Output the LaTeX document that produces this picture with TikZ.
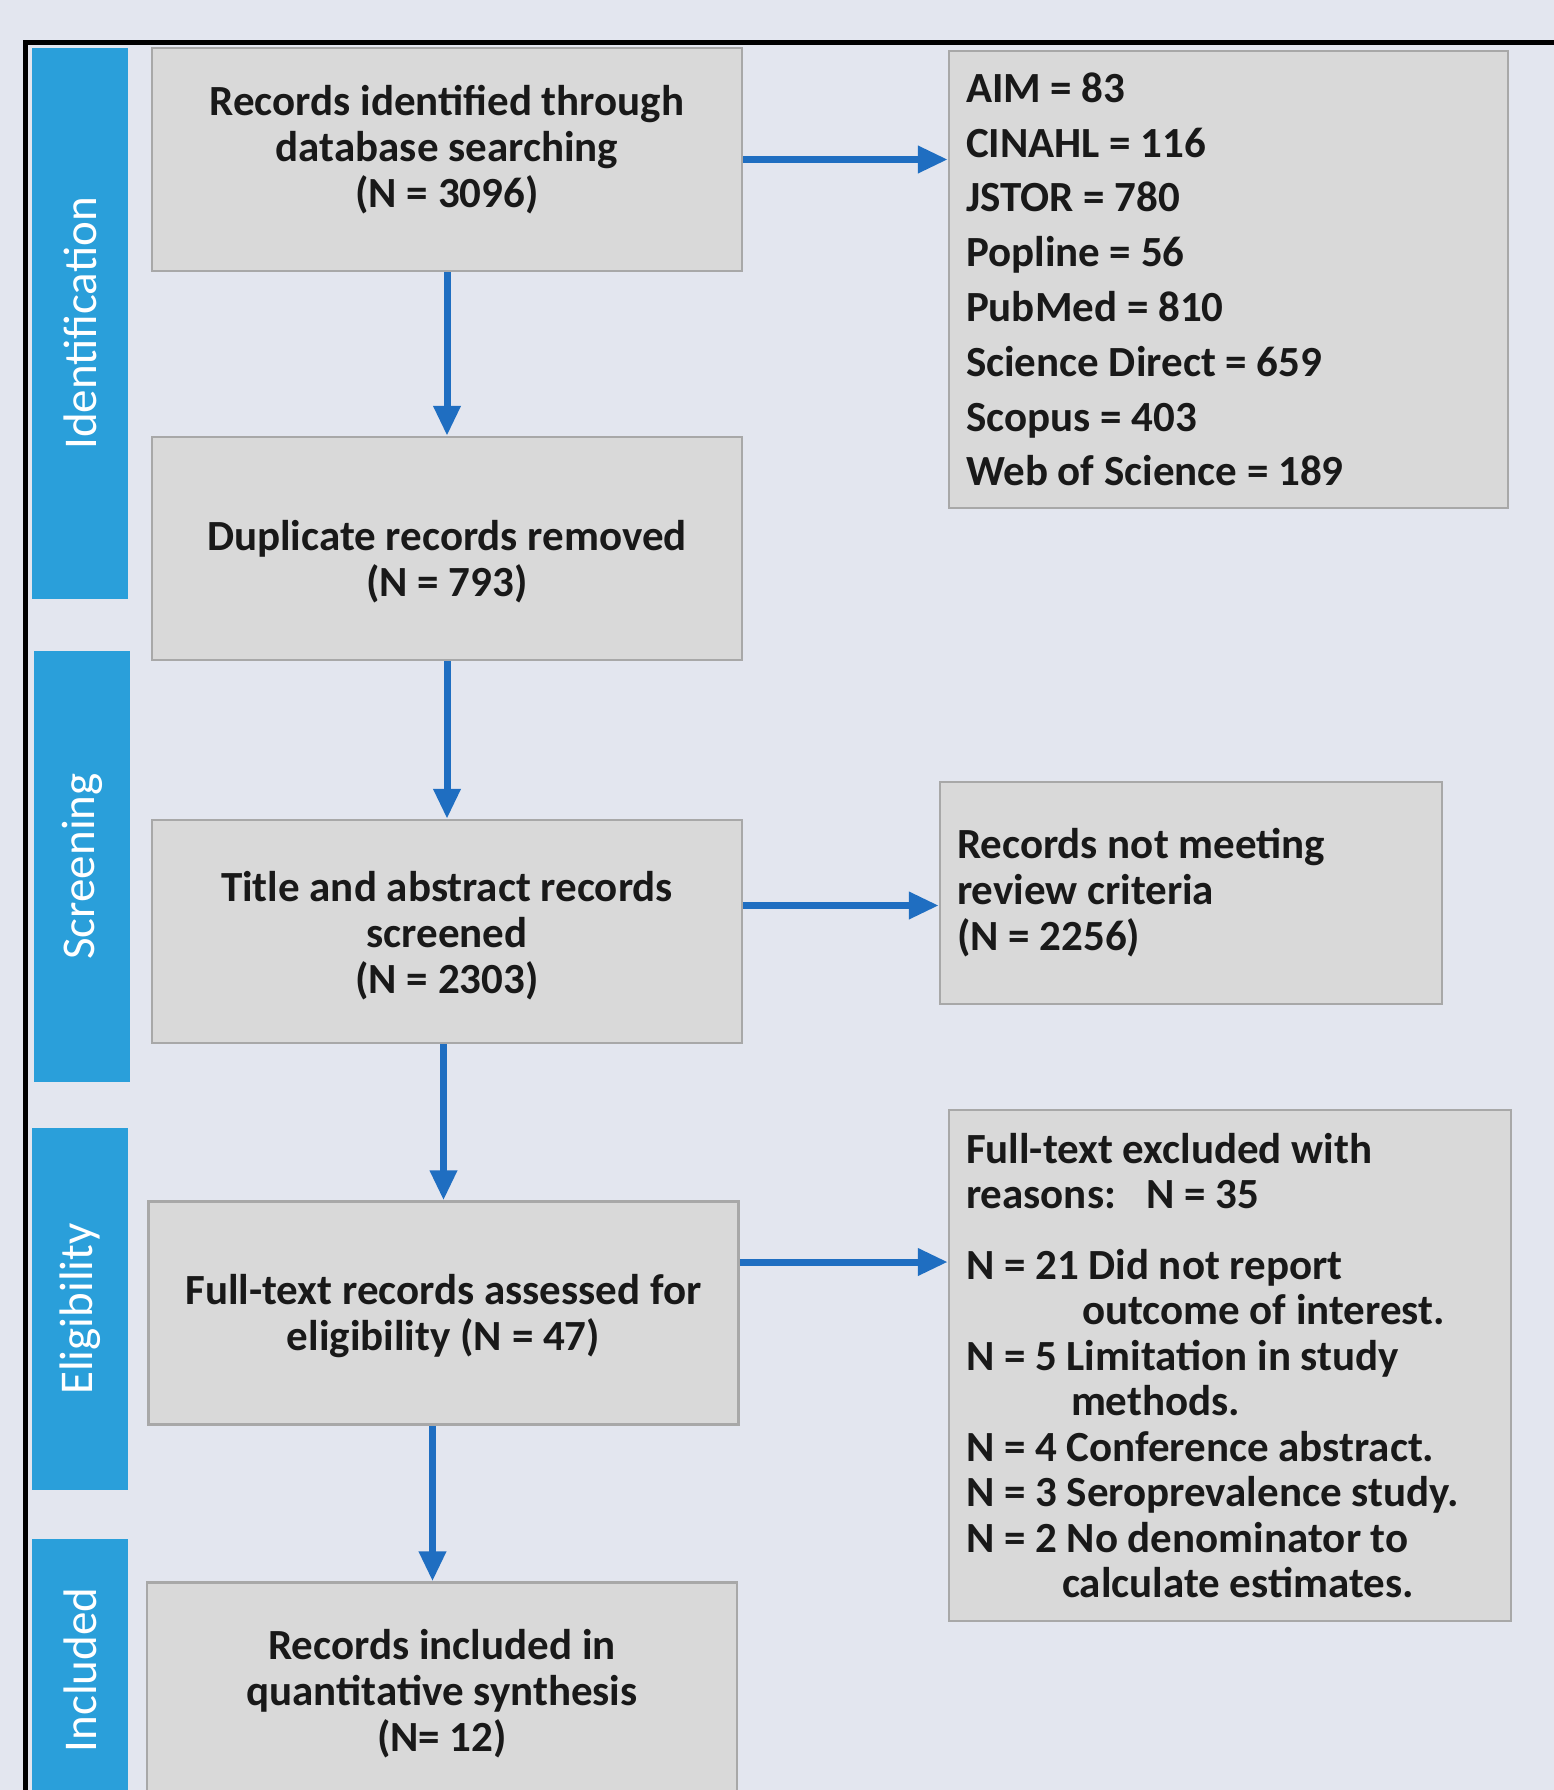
\documentclass[tikz,border=0pt]{standalone}
\usepackage{fontspec}
\setmainfont{Carlito}
\usetikzlibrary{positioning, arrows.meta}
\definecolor{bgcol}{HTML}{E3E6EF}
\definecolor{boxfill}{HTML}{D9D9D9}
\definecolor{boxline}{HTML}{A8A8A8}
\definecolor{barblue}{HTML}{2A9FDA}
\definecolor{arrblue}{HTML}{1F6EC1}
\tikzset{
    > = {Triangle[length=30pt, width=26pt]},
    stagebox/.style = {draw=boxline, fill=boxfill, line width=2.5pt,
        minimum width=590pt, minimum height=223pt, inner sep=0pt,
        align=center, text=black!90,
        font=\fontsize{43}{46}\selectfont\bfseries},
    listbox/.style = {draw=boxline, fill=boxfill, line width=2.5pt,
        inner xsep=17pt, inner ysep=0pt, align=flush left, text=black!90,
        font=\fontsize{43}{46}\selectfont\bfseries},
    stagebar/.style = {fill=barblue, rotate=90, minimum height=96pt,
        inner sep=0pt, text=white, font=\fontsize{47}{50}\selectfont},
    flow/.style = {->, draw=arrblue, line width=7pt},
}

\begin{document}
\begin{tikzpicture}[x=1pt, y=-1pt]
\useasboundingbox (0,0) rectangle (1554,1790);
\fill[bgcol] (0,0) rectangle (1554,1790);

% frame
\draw[line width=5pt] (25,1800) -- (25,43) -- (1560,43);

% stage bars
\node[stagebar, minimum width=551pt] (identbar) at (80,323.5) {Identification};
\node[stagebar, minimum width=431pt] (screenbar) at (82,866.5) {Screening};
\node[stagebar, minimum width=362pt] (eligbar) at (80,1309) {Eligibility};
\node[stagebar, minimum width=262pt] (inclbar) at (80,1670) {Included};

% main flow
\node[stagebox] (records) at (447,159.5) {Records identified through\\database searching\\(N = 3096)\rule[-26pt]{0pt}{0pt}};
\node[stagebox] (duplicates) at (447,548.5) {\rule{0pt}{56pt}Duplicate records removed\\(N = 793)};
\node[stagebox] (screened) at (447,931.5) {\rule{0pt}{38pt}Title and abstract records\\screened\\(N = 2303)};
\node[stagebox] (fulltext) at (443.5,1313) {\rule{0pt}{36pt}Full-text records assessed for\\eligibility (N = 47)};
\node[stagebox] (included) at (442,1694) {Records included in\\quantitative synthesis\\(N= 12)};

% side boxes
\node[listbox, text width=525pt, minimum height=457pt,
    font=\fontsize{43}{54.8}\selectfont\bfseries] (dbases) at (1228.5,279.5)
    {AIM = 83\\CINAHL = 116\\JSTOR = 780\\Popline = 56\\PubMed = 810\\Science Direct = 659\\Scopus = 403\\Web of Science = 189};
\node[listbox, text width=468pt, minimum height=222pt] (notmeeting) at (1191,893)
    {Records not meeting\\review criteria\\(N = 2256)};
\node[listbox, text width=528pt, minimum height=511pt,
    font=\fontsize{43}{45.5}\selectfont\bfseries] (excluded) at (1230,1365.5)
    {Full-text excluded with\\reasons:\hspace{30pt}N = 35\\[25pt]
     N = 21 Did not report\\\hspace*{116pt}outcome of interest.\\
     N = 5 Limitation in study\\\hspace*{105pt}methods.\\
     N = 4 Conference abstract.\\
     N = 3 Seroprevalence study.\\
     N = 2 No denominator to\\\hspace*{96pt}calculate estimates.};

% connectors
\coordinate (scrOut) at ([yshift=26pt]screened.east);
\coordinate (ftOut) at ([yshift=51pt]fulltext.east);
\coordinate (ftDown) at ([xshift=-11pt]fulltext.south);

\draw[flow] (records.east) -- (records.east -| dbases.west);
\draw[flow] (records.south) -- (duplicates.north);
\draw[flow] (duplicates.south) -- (screened.north);
\draw[flow] (scrOut) -- (scrOut -| notmeeting.west);
\draw[flow] (fulltext.north |- screened.south) -- (fulltext.north);
\draw[flow] (ftOut) -- (ftOut -| excluded.west);
\draw[flow] (ftDown) -- (ftDown |- included.north);
\end{tikzpicture}
\end{document}
